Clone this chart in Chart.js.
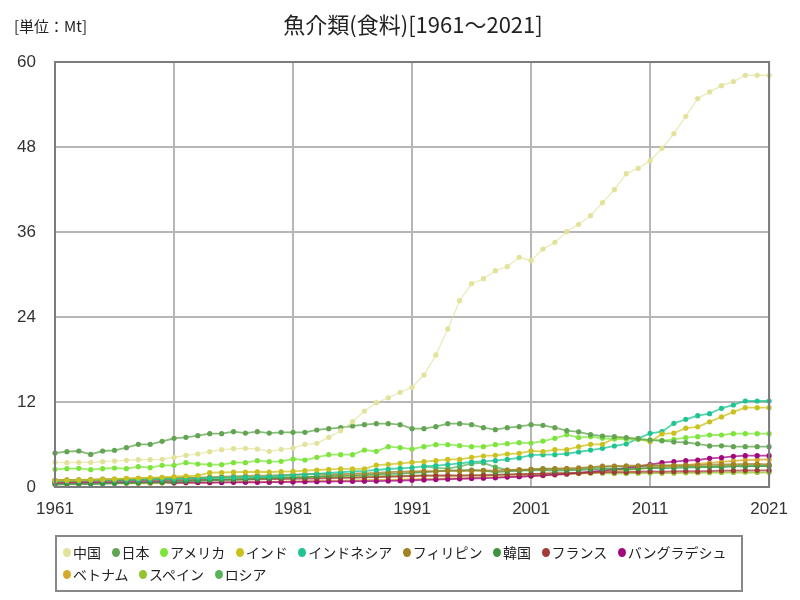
<!DOCTYPE html>
<html><head><meta charset="utf-8">
<script src="https://cdn.jsdelivr.net/npm/chart.js@4"></script>
<style>
body{margin:0;background:#fff;width:800px;height:600px;overflow:hidden;font-family:"Noto Sans CJK JP",sans-serif;}
#wrap{position:relative;width:800px;height:600px;}
canvas{position:absolute;left:0;top:0;}
#title{position:absolute;left:55px;width:716px;top:9px;text-align:center;font-size:22px;color:#222;line-height:28px;white-space:nowrap;}
#unit{position:absolute;left:14px;top:16px;font-size:15px;color:#222;line-height:20px;white-space:nowrap;}
#legend{position:absolute;left:55px;top:535px;width:688px;height:57px;border:2px solid #888;box-sizing:border-box;padding:4px 0 0 6px;display:flex;flex-wrap:wrap;align-content:flex-start;}
.li{display:flex;align-items:center;height:22px;margin-right:10.5px;font-size:14px;color:#222;white-space:nowrap;}
.li:last-child{margin-right:0;}
.dot{width:8px;height:9px;border-radius:50%;margin-right:2px;}
</style></head>
<body><div id="wrap">
<canvas id="c" width="800" height="600"></canvas>
<div id="title">魚介類(食料)[1961～2021]</div>
<div id="unit">[単位：Mt]</div>
<div id="legend"></div>
</div>
<script>
const years = Array.from({length: 61}, (_, i) => String(1961 + i));
const yTicks = [0, 12, 24, 36, 48, 60];

const seriesNames = ["中国","日本","アメリカ","インド","インドネシア","フィリピン","韓国","フランス","バングラデシュ","ベトナム","スペイン","ロシア"];
const seriesColors = ["#e2e29a","#62a452","#7de43c","#c9c21e","#1ec492","#a28222","#3f9444","#a23a38","#a2087e","#d4aa2c","#94c42e","#58b45a"];

const china = [3.48,3.44,3.48,3.48,3.58,3.67,3.77,3.86,3.86,3.91,
 4.19,4.47,4.66,4.99,5.27,5.41,5.46,5.36,5.04,5.32,
 5.5,6.02,6.17,7.01,7.95,9.22,10.73,11.9,12.6,13.37,
 14.07,15.81,18.64,22.31,26.3,28.7,29.41,30.54,31.1,32.42,
 31.95,33.6,34.54,36.05,37.08,38.31,40.14,41.98,44.24,44.99,
 46.07,47.81,49.88,52.33,54.83,55.77,56.66,57.23,58.12,58.12,58.12];
const japan = [4.8,4.99,5.08,4.6,5.08,5.18,5.55,6.02,6.02,6.45,
 6.87,7.01,7.25,7.53,7.53,7.81,7.62,7.81,7.62,7.72,
 7.72,7.72,8.05,8.24,8.38,8.61,8.8,8.94,8.94,8.8,
 8.24,8.24,8.52,8.94,8.94,8.8,8.38,8.09,8.38,8.52,
 8.8,8.71,8.38,7.95,7.79,7.4,7.2,7.1,6.98,6.8,
 6.62,6.54,6.37,6.28,6.1,5.8,5.82,5.69,5.69,5.69,5.69];
const usa = [2.49,2.59,2.64,2.45,2.59,2.68,2.59,2.87,2.73,3.06,
 3.06,3.44,3.25,3.15,3.15,3.44,3.44,3.72,3.58,3.62,
 3.95,3.81,4.19,4.56,4.56,4.56,5.22,5.04,5.69,5.55,
 5.36,5.69,5.98,5.98,5.84,5.69,5.69,5.98,6.12,6.26,
 6.2,6.49,6.87,7.39,6.98,7.11,6.88,6.76,6.74,6.73,
 6.64,6.54,6.73,6.97,7.11,7.34,7.34,7.53,7.53,7.53,7.53];
const india = [0.89,0.92,0.95,1.0,1.05,1.1,1.22,1.25,1.3,1.38,
 1.46,1.55,1.62,2.02,2.05,2.1,2.12,2.15,2.12,2.18,
 2.21,2.3,2.4,2.5,2.55,2.55,2.56,3.1,3.2,3.34,
 3.48,3.58,3.72,3.9,3.9,4.19,4.38,4.47,4.66,4.75,
 5.1,4.99,5.27,5.27,5.69,6.02,6.02,6.9,6.9,6.8,
 6.4,7.5,7.6,8.3,8.5,9.2,9.9,10.6,11.2,11.2,11.2];
const indonesia = [0.85,0.86,0.9,0.93,0.94,0.98,1.01,1.02,1.07,1.1,
 1.14,1.18,1.25,1.27,1.3,1.37,1.39,1.44,1.48,1.55,
 1.69,1.78,1.86,2.0,2.08,2.2,2.28,2.4,2.54,2.64,
 2.73,2.92,3.01,3.15,3.34,3.53,3.62,3.72,3.9,4.1,
 4.5,4.56,4.56,4.7,4.94,5.22,5.46,5.79,6.07,6.87,
 7.58,7.81,8.99,9.55,10.07,10.35,11.11,11.58,12.14,12.14,12.14];
const philippines = [0.95,1.0,1.02,1.05,1.1,1.12,1.15,1.2,1.25,1.28,
 1.3,1.35,1.33,1.4,1.45,1.5,1.55,1.6,1.62,1.68,
 1.75,1.8,1.85,1.8,1.82,1.9,1.95,2.0,2.1,2.15,
 2.2,2.25,2.2,2.3,2.25,2.3,2.35,2.3,2.4,2.45,
 2.5,2.55,2.6,2.65,2.7,2.8,2.95,2.95,3.0,3.0,
 3.05,3.0,3.05,3.1,3.1,3.15,3.2,3.2,3.25,3.25,3.2];
const korea = [0.35,0.38,0.4,0.42,0.45,0.5,0.55,0.58,0.62,0.65,
 0.72,0.8,0.9,0.95,1.0,1.05,1.1,1.2,1.25,1.3,
 1.35,1.4,1.5,1.55,1.6,1.65,1.7,1.8,1.85,1.9,
 2.0,2.1,2.2,2.3,2.35,2.4,2.3,2.1,2.2,2.3,
 2.35,2.4,2.3,2.35,2.4,2.5,2.55,2.6,2.5,2.6,
 2.7,2.65,2.7,2.75,2.8,2.85,2.8,2.9,2.9,2.95,2.95];
const france = [0.8,0.82,0.8,0.85,0.86,0.88,0.9,0.9,0.92,0.95,
 0.95,0.98,1.0,1.0,1.02,1.05,1.05,1.08,1.1,1.12,
 1.15,1.18,1.2,1.25,1.28,1.3,1.35,1.4,1.45,1.5,
 1.55,1.6,1.6,1.65,1.6,1.62,1.65,1.7,1.75,1.8,
 1.85,1.9,1.95,1.95,2.0,2.05,2.1,2.1,2.1,2.15,
 2.2,2.15,2.2,2.25,2.2,2.25,2.3,2.3,2.35,2.35,2.35];
const bangladesh = [0.55,0.58,0.6,0.62,0.65,0.65,0.68,0.7,0.7,0.72,
 0.6,0.62,0.65,0.63,0.65,0.66,0.68,0.66,0.68,0.7,
 0.72,0.74,0.75,0.76,0.78,0.8,0.82,0.84,0.86,0.9,
 0.95,1.0,1.05,1.1,1.15,1.2,1.25,1.3,1.4,1.45,
 1.55,1.65,1.75,1.85,2.0,2.15,2.3,2.5,2.65,2.9,
 3.15,3.44,3.58,3.72,3.81,4.05,4.14,4.33,4.42,4.42,4.42];
const vietnam = [0.45,0.48,0.5,0.52,0.55,0.55,0.53,0.5,0.52,0.55,
 0.58,0.6,0.62,0.6,0.65,0.7,0.72,0.7,0.72,0.75,
 0.78,0.8,0.85,0.88,0.9,0.92,0.95,1.0,1.02,1.05,
 1.1,1.12,1.15,1.2,1.25,1.3,1.35,1.4,1.45,1.5,
 1.55,1.6,1.7,1.8,1.9,2.0,2.15,2.3,2.4,2.55,
 2.7,2.85,3.0,3.1,3.25,3.4,3.55,3.7,3.8,3.85,3.9];
const spain = [0.9,0.95,0.98,1.0,1.0,1.02,1.05,1.08,1.1,1.12,
 1.15,1.2,1.22,1.25,1.28,1.3,1.25,1.28,1.3,1.32,
 1.35,1.38,1.4,1.38,1.4,1.45,1.5,1.52,1.55,1.58,
 1.6,1.65,1.6,1.62,1.65,1.7,1.72,1.75,1.78,1.8,
 1.82,1.85,1.88,1.9,1.92,1.95,1.95,1.9,1.92,1.95,
 1.98,1.95,1.95,2.0,2.0,2.02,2.05,2.05,2.08,2.05,2.07];
const russia = [null,null,null,null,null,null,null,null,null,null,
 null,null,null,null,null,null,null,null,null,null,
 null,null,null,null,null,null,null,null,null,null,
 null,2.9,2.7,2.6,2.9,3.3,3.4,2.8,2.4,2.3,
 2.5,2.6,2.55,2.5,2.6,2.7,2.8,2.9,2.85,2.9,
 3.0,3.05,3.0,2.9,2.85,2.9,3.0,3.05,3.0,3.0,3.0];

const seriesValues = [china,japan,usa,india,indonesia,philippines,korea,france,bangladesh,vietnam,spain,russia];

function hexA(h, a){const r=parseInt(h.substr(1,2),16),g=parseInt(h.substr(3,2),16),b=parseInt(h.substr(5,2),16);return `rgba(${r},${g},${b},${a})`;}

const datasets = seriesNames.map((n, i) => ({
  label: n,
  data: seriesValues[i],
  borderColor: hexA(seriesColors[i], 0.75),
  backgroundColor: seriesColors[i],
  pointBackgroundColor: seriesColors[i],
  pointBorderWidth: 0,
  pointRadius: 2.6,
  borderWidth: i === 0 ? 1.2 : 1.8,
  tension: 0,
  spanGaps: false
}));

const frame = {
  id: 'frame',
  afterDraw(chart){
    const a = chart.chartArea, ctx = chart.ctx;
    ctx.save();
    ctx.strokeStyle = '#7c7c7c';
    ctx.lineWidth = 2;
    ctx.strokeRect(a.left, a.top, a.right - a.left, a.bottom - a.top);
    ctx.restore();
  }
};

const tickFont = {family: "'Liberation Sans Narrow','Liberation Sans',sans-serif", size: 17};

const chart = new Chart(document.getElementById('c'), {
  type: 'line',
  data: {labels: years, datasets},
  options: {
    responsive: false,
    animation: false,
    devicePixelRatio: 1,
    layout: {padding: {top: 62, right: 29, bottom: 78, left: 0}},
    plugins: {legend: {display: false}, title: {display: false}, tooltip: {enabled: false}},
    scales: {
      x: {
        offset: false,
        grid: {color: '#b6b6b6', lineWidth: 2, drawTicks: false},
        border: {display: false},
        ticks: {
          autoSkip: false, maxRotation: 0, padding: 12, color: '#333', font: tickFont,
          callback: function(v, i){ const y = years[i]; return ((+y - 1961) % 10 === 0) ? y : null; }
        },
        afterFit(s){ s.height = 35; }
      },
      y: {
        min: 0, max: 60,
        afterBuildTicks(s){ s.ticks = yTicks.map(v => ({value: v})); },
        grid: {color: '#b6b6b6', lineWidth: 2, drawTicks: false},
        border: {display: false},
        ticks: {padding: 19, color: '#333', font: tickFont},
        afterFit(s){ s.width = 55; }
      }
    }
  },
  plugins: [frame]
});

const items = chart.options.plugins.legend.labels.generateLabels(chart);
const lg = document.getElementById('legend');
items.forEach(it => {
  const d = document.createElement('div'); d.className = 'li';
  const dot = document.createElement('span'); dot.className = 'dot'; dot.style.background = it.fillStyle;
  const t = document.createElement('span'); t.textContent = it.text;
  d.appendChild(dot); d.appendChild(t); lg.appendChild(d);
});
</script>
</body></html>
